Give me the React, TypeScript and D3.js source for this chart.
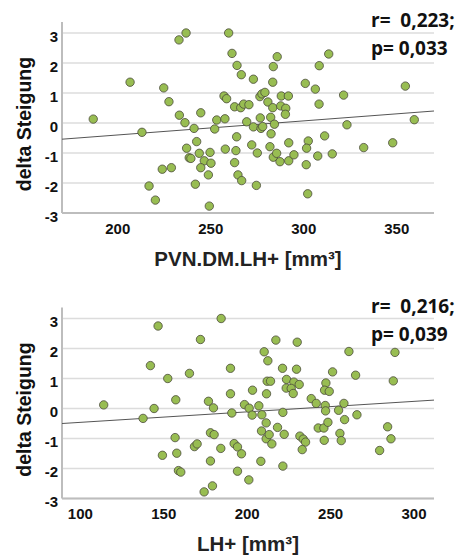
import React from "react";
import * as d3 from "d3";

// ---- Data ----
const topX = [186.8, 206.6, 213, 224.7, 227.5, 232.9, 236.7, 233.1, 236.1, 241, 244.6, 237, 242.4, 238.4, 239.3, 243.8, 246.5, 249.6, 244.6, 250.1, 248.7, 241.7, 223.9, 228.8, 216.8, 220.2, 249.2, 252.1, 253.2, 257.6, 257.1, 258.5, 259.6, 261.4, 264.1, 266.4, 262.8, 266.1, 267.7, 270.5, 269.3, 263.9, 263.5, 257.8, 262.8, 264.6, 266.6,
  272.9, 276.4, 277.5, 279.1, 280.7, 283.3, 283.6, 285.7, 283.3, 287.6, 287.9, 291.7, 290.3, 290.1, 276.6, 282.2, 272.9, 277, 277.9, 284.2, 282.4, 272, 275, 281.8, 283.6, 285.4, 287.2, 291.9, 291.9, 294.7, 274.5, 300.8, 306.2, 308.3, 313.4, 308.2, 321.4, 323.2, 302.4, 301.5, 301.3, 307.5, 311.2, 315.3, 302.1, 332.2, 347.8, 354.6, 359.4];
const topY = [0.13, 1.36, -0.31, 1.17, 0.71, 2.77, 3.0, 0.26, 0.01, -0.18, 0.34, -0.84, -0.62, -1.16, -1.18, -1.01, -1.26, -0.98, -1.49, -1.34, -1.73, -2.04, -1.54, -1.49, -2.1, -2.57, -2.77, -0.2, 0.1, 0.14, 0.9, 0.81, 3.0, 2.32, 1.92, 1.61, 0.54, 0.51, 0.63, 0.61, 0.04, -0.46, -0.92, -0.87, -1.32, -1.73, -1.92,
  1.46, 0.88, 0.97, 1.02, 0.7, 1.36, 1.88, 2.21, 0.51, 0.57, 0.9, 0.9, 0.49, 0.29, 0.17, 0.19, -0.13, -0.18, -0.12, -0.04, -0.36, -0.73, -1.0, -0.79, -1.14, -1.01, -1.29, -0.66, -1.26, -1.06, -2.08, 1.32, 1.13, 1.91, 2.3, 0.63, 0.93, -0.06, -0.6, -0.84, -1.39, -1.1, -0.43, -1.03, -2.36, -0.82, -0.66, 1.23, 0.11];

const bottomX = [114, 137.6, 144.2, 142, 146.6, 152.4, 157.2, 156.8, 157.8, 149.2, 158.8, 160.2, 165.4, 172, 168.4, 170, 176.8, 179.8, 178, 180.2, 178, 174.2, 179.2, 184.2, 184.4, 190, 190, 190.8, 192.2, 194.2, 196.6, 194.2, 201, 198.4, 201.2, 203.2, 203, 207, 208.8, 211.4, 208.6, 211.4, 213.2, 214.8, 208.2, 210.2, 212.4, 212, 214, 211.6, 217.2, 218.2,
  221.4, 221.2, 222.2, 221.4, 223.6, 223.4, 230, 229.6, 228, 231.2, 226.4, 227.6, 231.6, 233.6, 235, 233, 238.4, 241.4, 242.6, 246, 246.2, 248.4, 247.2, 246.4, 249.2, 251.2, 246.8, 247, 254.8, 258, 258.4, 255.6, 256.4, 261, 265, 265.8, 279.4, 284.2, 286.2, 287.6, 288.6];
const bottomY = [0.12, -0.33, 0.0, 1.43, 2.75, 1.0, 0.29, -0.97, -1.49, -1.56, -2.07, -2.12, 1.17, 2.3, -1.27, -1.18, 0.24, 0.02, -0.81, -0.87, -1.75, -2.78, -2.58, -1.33, 3.0, 1.34, 0.49, -0.15, -1.17, -1.28, -1.51, -2.09, -2.38, 0.13, 0.01, 0.61, -0.22, 0.09, -0.21, -0.48, -0.75, -1.01, -0.87, -1.18, -1.76, 1.89, 1.59, 0.91, 0.91, 0.49, 2.28, -0.63,
  -0.13, 1.34, -0.86, -1.92, 0.97, 0.68, 2.21, 1.31, 0.88, 0.8, 0.67, 0.5, -0.92, -1.02, -1.12, -1.37, 0.33, 0.17, -0.65, -0.65, -1.06, -0.46, 0.85, 0.61, 0.57, 1.22, 0.1, -0.08, -0.06, 0.17, -0.37, -0.83, -1.07, 1.9, 1.11, -0.21, -1.4, -0.61, -1.01, 0.92, 1.87];

const yTicks = [3, 2, 1, 0, -1, -2, -3];
const topXTicks = [200, 250, 300, 350];
const bottomXTicks = [100, 150, 200, 250, 300];
const topDomain: [number, number] = [170, 370];
const bottomDomain: [number, number] = [89, 312];
const topFit = [-0.54, 0.4]; // fitted values at domain ends
const bottomFit = [-0.5, 0.28];
const topStats = ["r=  0,223;", "p= 0,033"];
const bottomStats = ["r=  0,216;", "p= 0,039"];
const yTitle = "delta Steigung";
const topXTitle = "PVN.DM.LH+ [mm³]";
const bottomXTitle = "LH+ [mm³]";

const FONT = "'Liberation Sans', Arial, sans-serif";

type PanelProps = {
  top: number;
  xs: number[];
  ys: number[];
  domain: [number, number];
  xTicks: number[];
  fit: number[];
  stats: string[];
  xTitle: string;
};

function Panel({ top, xs, ys, domain, xTicks, fit, stats, xTitle }: PanelProps) {
  const left = 62;
  const right = 434;
  const plotTop = top;
  const plotBottom = top + 180;
  const x = d3.scaleLinear().domain(domain).range([left, right]);
  const y = d3.scaleLinear().domain([-3, 3]).range([plotBottom, plotTop]);
  const line = d3
    .line<[number, number]>()
    .x((d) => x(d[0]))
    .y((d) => y(d[1]));
  const fitPts: [number, number][] = [
    [domain[0], fit[0]],
    [domain[1], fit[1]],
  ];
  return (
    <g>
      {yTicks.map((t) => (
        <line key={"g" + t} x1={left} x2={right} y1={y(t)} y2={y(t)} stroke="#dcdcdc" strokeWidth={1.5} />
      ))}
      <line x1={left} x2={left} y1={plotTop - 11} y2={plotBottom} stroke="#bdbdbd" strokeWidth={2} />
      <line x1={left} x2={right} y1={plotBottom} y2={plotBottom} stroke="#bdbdbd" strokeWidth={2} />
      {yTicks.map((t) => (
        <text key={"yt" + t} x={58} y={y(t) + 3} textAnchor="end" dominantBaseline="central" fontFamily={FONT} fontWeight="bold" fontSize={15} fill="#111">
          {t}
        </text>
      ))}
      {xTicks.map((t) => (
        <text key={"xt" + t} x={x(t)} y={plotBottom + 15} textAnchor="middle" dominantBaseline="central" fontFamily={FONT} fontWeight="bold" fontSize={15} fill="#111">
          {t}
        </text>
      ))}
      <text transform={`translate(24,${(plotTop + plotBottom) / 2 + 1}) rotate(-90)`} textAnchor="middle" dominantBaseline="central" fontFamily={FONT} fontWeight="bold" fontSize={19.5} fill="#111">
        {yTitle}
      </text>
      <text x={248} y={plotBottom + 45} textAnchor="middle" dominantBaseline="central" fontFamily={FONT} fontWeight="bold" fontSize={20.5} fill="#222">
        {xTitle}
      </text>
      <path d={line(fitPts) || ""} stroke="#555" strokeWidth={1} fill="none" />
      {xs.map((v, i) => (
        <circle key={i} cx={x(v)} cy={y(ys[i])} r={4.2} fill="#98bd52" stroke="#4a4a3a" strokeWidth={0.8} />
      ))}
      <text x={371} y={plotTop - 13} dominantBaseline="central" fontFamily="'Open Sans', sans-serif" fontWeight="bold" fontSize={19} fill="#111" style={{ whiteSpace: "pre" }}>
        {stats[0]}
      </text>
      <text x={371} y={plotTop + 15} dominantBaseline="central" fontFamily="'Open Sans', sans-serif" fontWeight="bold" fontSize={19} fill="#111">
        {stats[1]}
      </text>
    </g>
  );
}

export default function App() {
  return (
    <svg width={472} height={555} style={{ position: "absolute", left: 0, top: 0, background: "#fff" }}>
      <rect width={472} height={555} fill="#fff" />
      <Panel top={33} xs={topX} ys={topY} domain={topDomain} xTicks={topXTicks} fit={topFit} stats={topStats} xTitle={topXTitle} />
      <Panel top={318.5} xs={bottomX} ys={bottomY} domain={bottomDomain} xTicks={bottomXTicks} fit={bottomFit} stats={bottomStats} xTitle={bottomXTitle} />
    </svg>
  );
}
